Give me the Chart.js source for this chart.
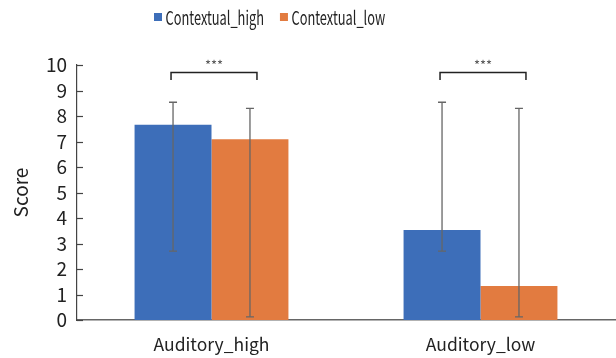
<!DOCTYPE html>
<html>
<head>
<meta charset="utf-8">
<script src="https://cdn.jsdelivr.net/npm/chart.js@4/dist/chart.umd.min.js"></script>
<style>
  html, body { margin: 0; padding: 0; background: #fff; }
  #wrap { width: 616px; height: 358px; position: relative; }
</style>
</head>
<body>
<div id="wrap"><canvas id="c"></canvas></div>
<script>
// Categories and series
const categories = ['Auditory_high', 'Auditory_low'];
const seriesNames = ['Contextual_high', 'Contextual_low'];

// Mean scores
const contextualHigh = [7.66, 3.53];
const contextualLow = [7.09, 1.33];

// Error bar ends (lower / upper)
const contextualHighLower = [2.70, 2.70];
const contextualHighUpper = [8.54, 8.54];
const contextualLowLower = [0.12, 0.12];
const contextualLowUpper = [8.30, 8.30];

// Y axis ticks
const yTicks = [0, 1, 2, 3, 4, 5, 6, 7, 8, 9, 10];

// Significance brackets: level on the score axis and the label above it
const bracketLevel = [9.71, 9.71];
const bracketDrop = 0.3;
const bracketLabel = ['***', '***'];

const seriesColors = ['#3D6EB9', '#E27B40'];
const textFont = '"Noto Sans CJK KR", "Noto Sans", sans-serif';
const errLower = [contextualHighLower, contextualLowLower];
const errUpper = [contextualHighUpper, contextualLowUpper];

// Legend row with narrow (horizontally condensed) labels
const narrowLegend = {
  id: 'narrowLegend',
  afterDraw(chart) {
    const ctx = chart.ctx;
    const squeeze = 0.675;
    let x = 154;
    const cy = 17;
    ctx.save();
    ctx.font = '19px ' + textFont;
    ctx.textBaseline = 'middle';
    ctx.textAlign = 'left';
    chart.data.datasets.forEach((ds) => {
      ctx.fillStyle = ds.backgroundColor;
      ctx.fillRect(x, cy - 4, 8, 8);
      const tx = x + 11.5;
      const w = ctx.measureText(ds.label).width * squeeze;
      ctx.save();
      ctx.translate(tx, cy + 1);
      ctx.scale(squeeze, 1);
      ctx.fillStyle = '#222';
      ctx.fillText(ds.label, 0, 0);
      ctx.restore();
      x = tx + w + 16;
    });
    ctx.restore();
  }
};

// Short tick marks pointing into the plot area
const innerTicks = {
  id: 'innerTicks',
  afterDraw(chart) {
    const y = chart.scales.y;
    const ctx = chart.ctx;
    const x0 = chart.chartArea.left;
    ctx.save();
    ctx.strokeStyle = '#444';
    ctx.lineWidth = 1.2;
    y.ticks.forEach((t, i) => {
      const py = Math.round(y.getPixelForTick(i)) + 0.5;
      ctx.beginPath();
      ctx.moveTo(x0, py);
      ctx.lineTo(x0 + 6, py);
      ctx.stroke();
    });
    ctx.restore();
  }
};

// Error bars with caps
const errorBars = {
  id: 'errorBars',
  afterDatasetsDraw(chart) {
    const ctx = chart.ctx;
    const y = chart.scales.y;
    ctx.save();
    ctx.strokeStyle = '#666';
    ctx.lineWidth = 1.3;
    chart.data.datasets.forEach((ds, di) => {
      const meta = chart.getDatasetMeta(di);
      meta.data.forEach((bar, j) => {
        const x = bar.x;
        const yl = y.getPixelForValue(errLower[di][j]);
        const yh = y.getPixelForValue(errUpper[di][j]);
        ctx.beginPath();
        ctx.moveTo(x, yl); ctx.lineTo(x, yh);
        ctx.moveTo(x - 4, yl); ctx.lineTo(x + 4, yl);
        ctx.moveTo(x - 4, yh); ctx.lineTo(x + 4, yh);
        ctx.stroke();
      });
    });
    ctx.restore();
  }
};

// Significance brackets between the two bars of each category
const brackets = {
  id: 'brackets',
  afterDraw(chart) {
    const ctx = chart.ctx;
    const y = chart.scales.y;
    const m0 = chart.getDatasetMeta(0);
    const m1 = chart.getDatasetMeta(1);
    ctx.save();
    ctx.strokeStyle = '#222';
    ctx.lineWidth = 1.5;
    categories.forEach((c, j) => {
      const xl = m0.data[j].x - 2;
      const xr = m1.data[j].x + 7;
      const yt = y.getPixelForValue(bracketLevel[j]);
      const yb = y.getPixelForValue(bracketLevel[j] - bracketDrop);
      ctx.beginPath();
      ctx.moveTo(xl, yb); ctx.lineTo(xl, yt); ctx.lineTo(xr, yt); ctx.lineTo(xr, yb);
      ctx.stroke();
      ctx.fillStyle = '#555';
      ctx.font = '13px ' + textFont;
      ctx.textAlign = 'center';
      ctx.textBaseline = 'alphabetic';
      ctx.fillText(bracketLabel[j], (xl + xr) / 2, yt - 2);
    });
    ctx.restore();
  }
};

new Chart(document.getElementById('c'), {
  type: 'bar',
  data: {
    labels: categories,
    datasets: [
      { label: seriesNames[0], data: contextualHigh, backgroundColor: seriesColors[0] },
      { label: seriesNames[1], data: contextualLow, backgroundColor: seriesColors[1] }
    ]
  },
  options: {
    responsive: true,
    maintainAspectRatio: false,
    animation: false,
    devicePixelRatio: 1,
    datasets: { bar: { barPercentage: 1, categoryPercentage: 0.572 } },
    layout: { padding: { left: 0, right: 1, top: 65, bottom: 0 } },
    plugins: {
      tooltip: { enabled: false },
      legend: { display: false }
    },
    scales: {
      x: {
        grid: { display: false, drawTicks: false },
        border: { display: true, color: '#666', width: 1.5 },
        ticks: { color: '#222', padding: 14, font: { family: textFont, size: 17.5 } },
        afterFit(s) { s.height = 38; }
      },
      y: {
        min: 0,
        max: 10,
        afterBuildTicks(s) { s.ticks = yTicks.map(v => ({ value: v })); },
        grid: { display: false, drawTicks: false },
        border: { display: true, color: '#444', width: 1.2 },
        ticks: { color: '#222', padding: 10, autoSkip: false, font: { family: textFont, size: 19 } },
        title: { display: true, text: 'Score', color: '#222', padding: { top: 9, bottom: 0 }, font: { family: textFont, size: 19 } },
        afterFit(s) { s.width = 77; }
      }
    }
  },
  plugins: [narrowLegend, innerTicks, errorBars, brackets]
});
</script>
</body>
</html>
